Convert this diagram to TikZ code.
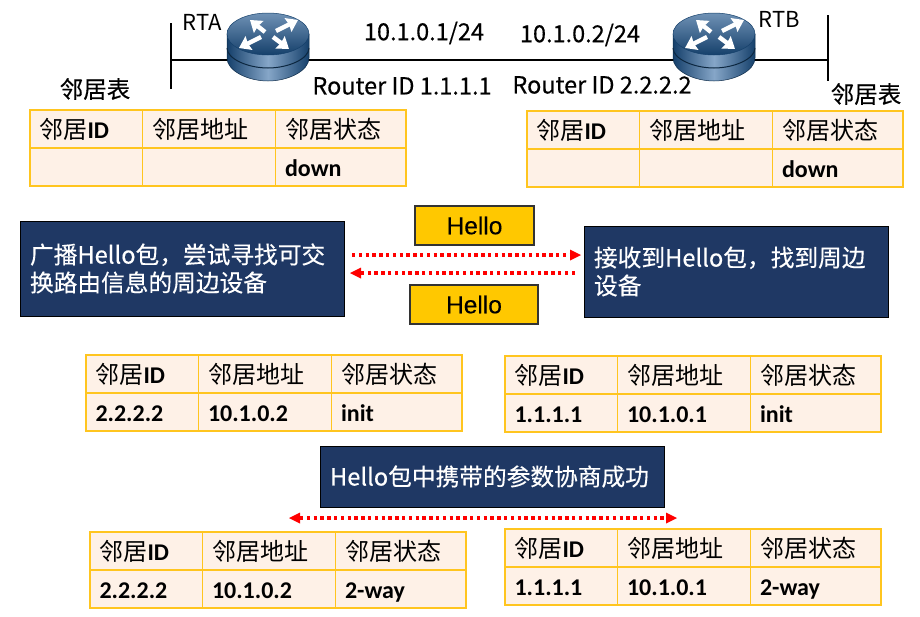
\documentclass[tikz,border=0pt]{standalone}
\usepackage{fontspec}
\setmainfont{Carlito}
\newfontfamily\cjk{Noto Sans CJK SC}
\newfontfamily\cjkm[FakeBold=0.35]{Noto Sans CJK SC}
\newfontfamily\helv[FakeBold=0.2]{Liberation Sans}
\usetikzlibrary{arrows.meta}
\definecolor{cellline}{HTML}{FFC51F}
\definecolor{cellfill}{HTML}{FEF1E7}
\definecolor{navybox}{HTML}{1F3864}
\definecolor{hellofill}{HTML}{FFC800}
\definecolor{rtdark}{HTML}{15406B}
\definecolor{rtlight}{HTML}{86A6C8}
\tikzset{
  cell/.style={draw=cellline,line width=1.6pt,fill=cellfill,anchor=north west,minimum height=38pt,
    text height=23pt,text depth=5pt,
    inner xsep=9.5pt,inner ysep=0pt,outer sep=0pt,align=left,font=\fontsize{24}{26}\selectfont\bfseries},
  txtlabel/.style={font=\cjkm\fontsize{23.5}{26}\selectfont},
  thinlabel/.style={font=\cjk\fontsize{22}{26}\selectfont},
  navy/.style={draw=black,line width=1pt,fill=navybox,text=white,anchor=north west,align=left,inner sep=0pt,outer sep=0pt,
    font=\cjkm\fontsize{23.7}{28}\selectfont},
  hellobox/.style={draw=black!80,line width=1.2pt,fill=hellofill,anchor=north west,inner sep=0pt,outer sep=0pt,
    font=\helv\fontsize{24.5}{26}\selectfont},
  redline/.style={red,line width=3.4pt,dash pattern=on 3.4pt off 3.4pt},
  bus/.style={line width=2.6pt,black}
}
\newcommand{\zh}[1]{{\cjk\mdseries #1}}
\newcommand{\nbrtable}[6]{
  \node[cell,text width=93.5pt] (#1id) at (#2,#3) {\zh{邻居}ID};
  \node[cell,text width=114pt] (#1addr) at (#1id.north east) {\zh{邻居地址}};
  \node[cell,text width=111.5pt] (#1state) at (#1addr.north east) {\zh{邻居状态}};
  \node[cell,text width=93.5pt] (#1idv) at (#1id.south west) {#4};
  \node[cell,text width=114pt] (#1addrv) at (#1addr.south west) {#5};
  \node[cell,text width=111.5pt] (#1statev) at (#1state.south west) {#6};
}
\newcommand{\routericon}[1]{
  \begin{scope}[shift={(#1.center)}]
    \draw[rtdark!70!black,line width=0.5pt,left color=rtdark,right color=rtdark,middle color=rtlight]
      (-41,-12) -- (-41,12) .. controls (-41,25) and (-20,35) .. (0,35)
      .. controls (20,35) and (41,25) .. (41,12) -- (41,-12) -- cycle;
    \draw[rtdark!60!black,line width=1pt] (-41,2) .. controls (-41,13) and (-20,22) .. (0,22)
      .. controls (20,22) and (41,13) .. (41,2);
    \draw[rtdark,line width=0.5pt,top color=rtlight!80!rtdark,bottom color=rtdark]
      (0,-12) circle [x radius=41pt,y radius=21pt];
    \foreach \tx/\ty/\hx/\hy in {8/-15/30/-26,-7/-9/-29/2,-3/-14/-18/-26,5/-9/21/3}
      \draw[white,line width=4.4pt,-{Stealth[length=11pt,width=15pt,inset=1pt]}] (\tx,\ty) -- (\hx,\hy);
  \end{scope}
}
\begin{document}
\begin{tikzpicture}[x=1pt,y=-1pt]
  \useasboundingbox (0,0) rectangle (920,616);
  \coordinate (busa) at (171,60);
  \coordinate (busb) at (828,60);
  \coordinate (busatop) at (171,23);
  \coordinate (busabot) at (171,89);
  \coordinate (busbtop) at (828,15);
  \coordinate (busbbot) at (828,81);
  \node[minimum width=82pt,minimum height=68pt,inner sep=0pt] (rta) at (268,46) {};
  \node[minimum width=82pt,minimum height=68pt,inner sep=0pt] (rtb) at (714,46) {};
  \draw[bus] (busatop) -- (busabot);
  \draw[bus] (busbtop) -- (busbbot);
  \draw[bus] (busa) -- (busb);
  \routericon{rta}
  \routericon{rtb}
  \node[thinlabel] (rtaname) at (202,22) {RTA};
  \node[thinlabel] (rtbname) at (779,19) {RTB};
  \node[txtlabel] (ipa) at (424,33) {10.1.0.1/24};
  \node[txtlabel] (ipb) at (580,35) {10.1.0.2/24};
  \node[txtlabel] (ida) at (402,86) {Router ID 1.1.1.1};
  \node[txtlabel] (idb) at (602,85) {Router ID 2.2.2.2};
  \node[txtlabel] (nbra) at (95,89) {邻居表};
  \node[txtlabel] (nbrb) at (866,94) {邻居表};
  \nbrtable{ta}{30}{110}{}{}{down}
  \nbrtable{tb}{527}{111}{}{}{down}
  \node[navy,minimum width=324pt,minimum height=95pt,text width=304pt,inner xsep=10pt] (send) at (20,221)
    {广播Hello包，尝试寻找可交\\换路由信息的周边设备};
  \node[navy,minimum width=304pt,minimum height=91pt,text width=284pt,inner xsep=10pt] (recv) at (584,226)
    {接收到Hello包，找到周边\\设备};
  \node[hellobox,minimum width=119pt,minimum height=39pt] (helloa) at (415,206) {Hello};
  \node[hellobox,minimum width=128pt,minimum height=39pt] (hellob) at (410,285) {Hello};
  \coordinate (reqa) at (352,255);
  \coordinate (reqb) at (581,255);
  \coordinate (repa) at (575,273);
  \coordinate (repb) at (350,273);
  \draw[redline,-{Triangle[length=11pt,width=11pt,line width=0pt]}] (reqa) -- (reqb);
  \draw[redline,-{Triangle[length=11pt,width=11pt,line width=0pt]}] (repa) -- (repb);
  \nbrtable{tc}{86}{355}{2.2.2.2}{10.1.0.2}{init}
  \nbrtable{td}{505}{356}{1.1.1.1}{10.1.0.1}{init}
  \node[navy,minimum width=344pt,minimum height=61pt,text width=324pt,inner xsep=10pt] (nego) at (320,446) {Hello包中携带的参数协商成功};
  \coordinate (nega) at (289,518);
  \coordinate (negb) at (677,518);
  \draw[redline,{Triangle[length=11pt,width=11pt,line width=0pt]}-{Triangle[length=11pt,width=11pt,line width=0pt]}] (nega) -- (negb);
  \nbrtable{te}{90}{532}{2.2.2.2}{10.1.0.2}{2-way}
  \nbrtable{tf}{505}{529}{1.1.1.1}{10.1.0.1}{2-way}
\end{tikzpicture}
\end{document}
